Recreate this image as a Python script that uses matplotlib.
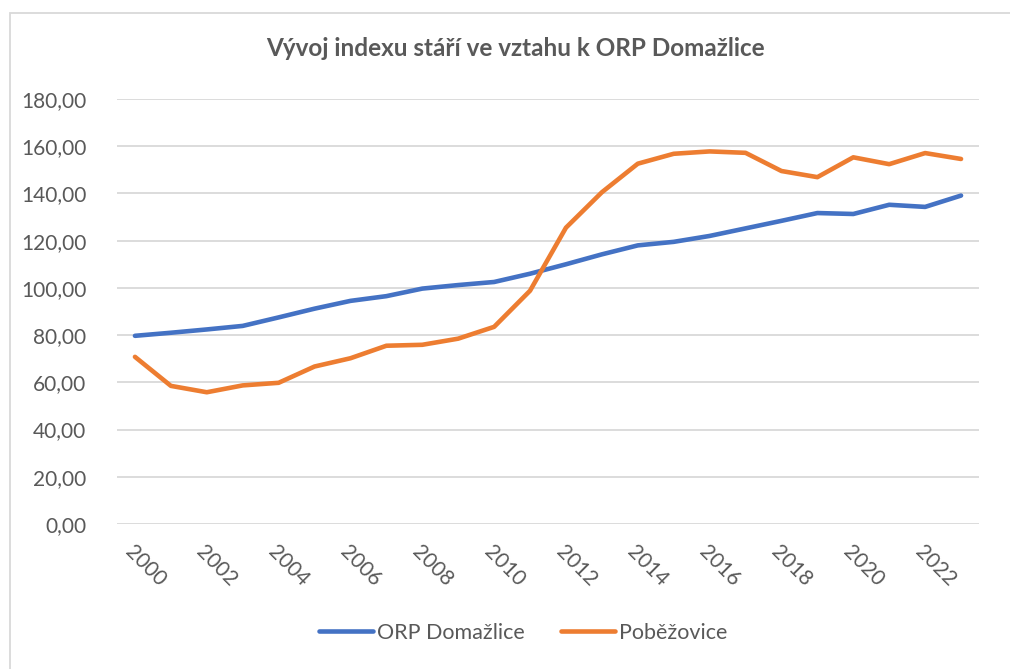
import matplotlib.pyplot as plt
from matplotlib.patches import Rectangle

years = list(range(2000, 2024))
orp_domazlice = [79.7, 81.0, 82.4, 83.9, 87.5, 91.2, 94.5, 96.5, 99.7, 101.2, 102.5, 106.0,
                 110.0, 114.2, 118.0, 119.5, 122.0, 125.2, 128.4, 131.7, 131.3, 135.2, 134.3, 139.1]
pobezovice = [70.8, 58.5, 55.8, 58.7, 59.8, 66.7, 70.2, 75.5, 75.9, 78.5, 83.5, 98.8,
              125.5, 140.5, 152.6, 156.8, 157.8, 157.2, 149.5, 146.9, 155.3, 152.4, 157.1, 154.6]

plt.rcParams['font.family'] = ['Lato', 'DejaVu Sans']
txt = '#595959'

fig = plt.figure(figsize=(10.1, 6.69), dpi=100)
fig.patches.append(Rectangle((10 / 1010, -0.01), 1.0, 1 - 13 / 669 + 0.01,
                             transform=fig.transFigure, fill=False,
                             edgecolor='#D9D9D9', linewidth=1.3))
ax = fig.add_axes([117 / 1010, 1 - 524 / 669, (979 - 117) / 1010, (524 - 99) / 669])

x = list(range(len(years)))
ax.plot(x, orp_domazlice, color='#4472C4', linewidth=3.3, solid_capstyle='round',
        label='ORP Domažlice')
ax.plot(x, pobezovice, color='#ED7D31', linewidth=3.3, solid_capstyle='round',
        label='Poběžovice')

ax.set_xlim(-0.5, len(years) - 0.5)
ax.set_ylim(0, 180)
ax.set_yticks(range(0, 181, 20))
ax.set_yticklabels([f'{v},00' for v in range(0, 181, 20)], fontsize=15, color=txt)
ax.set_xticks(x[::2])
ax.set_xticklabels([str(y) for y in years[::2]], rotation=-45, ha='left', va='top',
                   rotation_mode='anchor', fontsize=15, color=txt)
ax.tick_params(axis='both', length=0)
ax.tick_params(axis='y', pad=22)
ax.tick_params(axis='x', pad=13)
ax.grid(axis='y', color='#D9D9D9', linewidth=1.3)
ax.set_axisbelow(True)
for s in ax.spines.values():
    s.set_visible(False)

fig.text(515 / 1010, 1 - 48 / 669, 'Vývoj indexu stáří ve vztahu k ORP Domažlice',
         ha='center', va='center', fontsize=17.5, fontweight='bold', color=txt)

fig.legend(loc='center', bbox_to_anchor=(0.518, 1 - 633 / 669), ncol=2, frameon=False,
           fontsize=15.5, labelcolor=txt, handlelength=2.5, handletextpad=0.2,
           columnspacing=1.7)

fig.savefig('out.png', dpi=100)
